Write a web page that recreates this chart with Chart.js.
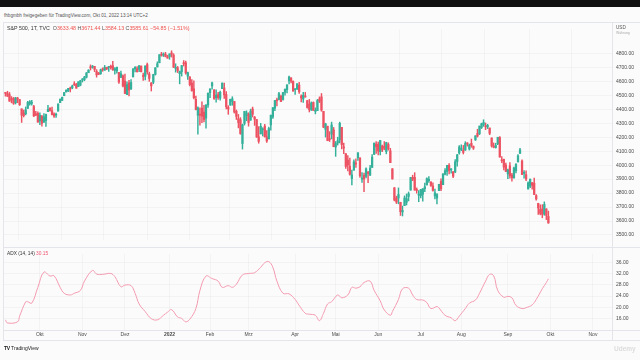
<!DOCTYPE html>
<html>
<head>
<meta charset="utf-8">
<script src="https://cdn.jsdelivr.net/npm/chart.js"></script>
<style>
  body { margin: 0; width: 640px; height: 360px; background: #fbfbfb; position: relative; overflow: hidden;
         font-family: "Liberation Sans", Arial, sans-serif; color: #333; }
  .abs { position: absolute; white-space: nowrap; }
  .line { position: absolute; background: #e3e5ea; }
  canvas { position: absolute; }
</style>
</head>
<body>
<div class="abs" style="left:0;top:0;width:640px;height:7px;background:#111"></div>
<div class="abs" style="left:4px;top:13px;font-size:4.6px;color:#555">fhbgmbh freigegeben für TradingView.com, Okt 01, 2022 13:14 UTC+2</div>

<canvas id="price" width="637" height="225" style="left:3px;top:22px"></canvas>
<canvas id="adx" width="637" height="93" style="left:3px;top:247px"></canvas>

<!-- pane borders -->
<div class="line" style="left:3px;top:22px;width:637px;height:1px"></div>
<div class="line" style="left:3px;top:22px;width:1px;height:318px"></div>
<div class="line" style="left:3px;top:247px;width:637px;height:1px"></div>
<div class="line" style="left:3px;top:330px;width:637px;height:1px"></div>
<div class="line" style="left:3px;top:340px;width:637px;height:1px"></div>
<div class="line" style="left:612px;top:22px;width:1px;height:318px"></div>

<div class="abs" style="left:7px;top:25px;font-size:5.3px">
  <span style="color:#333">S&amp;P 500, 1T, TVC</span>&nbsp;
  <span style="color:#555">O</span><span style="color:#ef5350">3633.48</span>
  <span style="color:#555">H</span><span style="color:#ef5350">3671.44</span>
  <span style="color:#555">L</span><span style="color:#ef5350">3584.13</span>
  <span style="color:#555">C</span><span style="color:#ef5350">3585.61</span>
  <span style="color:#ef5350">−54.85 (−1.51%)</span>
</div>
<div class="abs" style="left:616px;top:25px;font-size:4.6px;color:#555">USD</div>
<div class="abs" style="left:616px;top:31px;font-size:3.4px;color:#aaa">Währung</div>
<div class="abs" style="left:7px;top:251px;font-size:4.8px">
  <span style="color:#333">ADX (14, 14)</span>&nbsp;<span style="color:#ef5370">30.15</span>
</div>
<div class="abs" style="left:4px;top:345px;font-size:5px;color:#222"><b style="letter-spacing:-0.3px">TV</b> TradingView</div>
<div class="abs" style="left:614px;top:345px;font-size:6.5px;font-weight:bold;color:#dcdcdc">Udemy</div>

<script>
// x positions are trading-day indices (0 = 8 Sep 2021)
const monthIdx = [17, 38, 59, 81, 101, 120, 143, 163, 184, 205, 225, 248, 269, 290];
const monthLabels = ['Okt', 'Nov', 'Dez', '2022', 'Feb', 'Mrz', 'Apr', 'Mai', 'Jun', 'Jul', 'Aug', 'Sep', 'Okt', 'Nov'];
const priceTicks = [3500, 3600, 3700, 3800, 3900, 4000, 4100, 4200, 4300, 4400, 4500, 4600, 4700, 4800];
const adxTicks = [16, 20, 24, 28, 32, 36];

// S&P 500 daily candles, Sep 2021 - Sep 2022
const opens = [
  4518,4513,4506,4475,4479,4447,4477,4470,4403,4375,4368,4406,4439,4443,4420,4362,4371,
  4317,4349,4310,4320,4383,4407,4390,4368,4358,4387,4448,4464,4497,4524,4532,4547,4553,4578,4580,4562,4573,
  4610,4613,4630,4662,4699,4702,4707,4671,4660,4655,4689,4680,4701,4700,4708,4712,4679,4675,4664,4629,4640,
  4602,4505,4589,4548,4632,4690,4691,4687,4710,4642,4636,4720,4653,4588,4594,4650,4703,4733,4795,4788,4795,4775,
  4778,4804,4788,4693,4698,4655,4669,4729,4733,4637,4632,4588,4547,4471,4357,4366,4408,4380,4337,4431,
  4519,4567,4536,4483,4505,4480,4548,4553,4506,4413,4430,4456,4456,4385,4333,4325,4155,4299,4355,
  4364,4322,4402,4343,4327,4203,4224,4253,4279,4202,4188,4288,4345,4407,4463,4470,4494,4470,4522,4541,4603,4624,4600,
  4540,4547,4573,4495,4474,4494,4462,4437,4395,4449,4385,4390,4473,4489,4385,4256,4279,4187,4222,4253,
  4130,4159,4181,4271,4128,4082,4036,3991,3904,3964,4014,4053,4052,3900,3927,3920,3943,3929,3984,4077,4151,
  4149,4096,4137,4135,4097,4148,4102,3974,3838,3763,3765,3734,3665,3710,3734,3775,3821,3913,3913,3826,3785,
  3782,3792,3831,3858,3889,3880,3851,3779,3764,3818,3883,3860,3935,3955,3999,3966,3953,3951,4026,4087,
  4112,4105,4107,4154,4116,4156,4134,4181,4227,4225,4269,4290,4281,4274,4266,4195,4133,4126,4153,4198,4034,4041,4000,
  3937,3995,3930,3909,3959,4023,4084,4030,3941,3932,3830,3849,3875,3871,3782,3727,3682,3686,3651,3687,3633
];
const highs = [
  4521,4529,4521,4491,4485,4486,4486,4471,4403,4395,4417,4457,4463,4464,4428,4385,4382,
  4375,4356,4369,4365,4429,4413,4416,4375,4372,4439,4475,4488,4520,4540,4551,4559,4573,4598,4585,4597,4608,
  4620,4636,4664,4684,4718,4714,4708,4684,4664,4688,4697,4714,4701,4708,4717,4744,4699,4702,4664,4673,4647,
  4653,4596,4608,4612,4694,4706,4706,4713,4710,4660,4712,4731,4666,4592,4651,4698,4740,4791,4808,4804,4808,4787,
  4797,4819,4798,4726,4707,4674,4714,4749,4745,4666,4633,4612,4603,4495,4417,4411,4453,4428,4432,4516,
  4546,4595,4543,4539,4521,4531,4590,4588,4527,4426,4472,4490,4456,4395,4363,4340,4294,4386,4389,
  4375,4401,4416,4349,4327,4276,4299,4268,4292,4247,4272,4358,4413,4465,4481,4522,4501,4521,4546,4576,4637,4628,4603,
  4549,4583,4593,4504,4522,4521,4464,4471,4453,4453,4410,4471,4489,4513,4386,4300,4279,4240,4308,4270,
  4169,4200,4308,4271,4158,4082,4068,4050,3965,4039,4046,4090,4052,3946,3944,3981,3956,3999,4076,4158,4169,
  4166,4177,4143,4169,4164,4160,4120,3975,3839,3778,3837,3734,3707,3780,3794,3808,3913,3928,3946,3837,3818,
  3827,3832,3871,3910,3918,3880,3873,3829,3796,3863,3902,3939,3975,3999,4012,3976,3954,4040,4078,4140,
  4145,4141,4168,4161,4151,4187,4138,4211,4257,4280,4301,4325,4302,4293,4266,4195,4159,4157,4200,4204,4062,4044,4015,
  3971,4019,3942,3987,4011,4076,4120,4038,3962,3959,3880,3900,3876,3907,3790,3727,3716,3717,3737,3687,3671
];
const lows = [
  4494,4492,4457,4446,4435,4438,4447,4427,4306,4345,4360,4406,4429,4430,4348,4355,4307,
  4289,4279,4305,4278,4383,4386,4360,4342,4342,4387,4448,4461,4497,4524,4526,4524,4547,4570,4551,4562,4568,
  4595,4604,4624,4662,4681,4694,4670,4630,4648,4650,4672,4679,4684,4672,4688,4679,4652,4659,4585,4626,4560,
  4511,4504,4495,4541,4632,4667,4667,4670,4667,4606,4611,4651,4600,4531,4583,4645,4703,4733,4780,4778,4775,4766,
  4758,4774,4699,4666,4663,4582,4638,4710,4651,4614,4568,4530,4475,4395,4222,4287,4305,4309,4265,4414,
  4483,4544,4470,4451,4471,4465,4548,4478,4402,4364,4429,4429,4373,4327,4267,4221,4115,4287,4318,
  4279,4322,4345,4285,4199,4157,4224,4209,4200,4162,4188,4251,4335,4390,4425,4468,4455,4465,4501,4517,4582,4589,4530,
  4507,4540,4514,4452,4450,4487,4408,4381,4392,4392,4367,4390,4448,4386,4268,4201,4175,4169,4188,4132,
  4063,4144,4159,4117,4082,3976,3959,3928,3859,3964,3984,4033,3912,3876,3810,3909,3875,3925,3984,4077,4084,
  4074,4074,4097,4110,4081,4107,4018,3900,3744,3725,3723,3640,3636,3710,3715,3744,3821,3889,3821,3799,3738,
  3765,3742,3810,3858,3877,3847,3813,3759,3722,3818,3818,3860,3930,3927,3938,3943,3911,3947,3992,4079,
  4104,4080,4107,4136,4108,4128,4112,4177,4201,4219,4262,4278,4254,4262,4218,4129,4124,4122,4147,4057,4018,3966,3954,
  3903,3907,3886,3907,3944,4023,4084,3932,3907,3888,3828,3839,3828,3789,3749,3648,3644,3623,3641,3610,3584
];
const closes = [
  4514,4493,4458,4469,4443,4481,4473,4433,4358,4354,4396,4449,4455,4443,4353,4360,4308,
  4357,4300,4346,4363,4399,4391,4361,4351,4364,4438,4471,4486,4520,4537,4549,4545,4567,4575,4551,4597,4605,
  4614,4631,4660,4680,4697,4702,4686,4647,4650,4683,4683,4701,4689,4705,4698,4683,4691,4701,4595,4655,4567,
  4513,4577,4538,4592,4686,4701,4668,4712,4669,4635,4710,4669,4621,4568,4649,4697,4726,4791,4786,4793,4778,4766,
  4797,4794,4701,4696,4677,4670,4713,4726,4660,4663,4577,4533,4483,4398,4410,4357,4350,4327,4432,4516,
  4546,4589,4477,4501,4484,4522,4587,4504,4419,4402,4472,4475,4380,4349,4305,4226,4288,4385,4374,
  4306,4387,4364,4329,4201,4171,4278,4260,4204,4173,4262,4358,4412,4463,4461,4512,4456,4520,4543,4575,4632,4602,4530,
  4546,4583,4525,4481,4500,4488,4413,4397,4446,4392,4391,4463,4459,4394,4272,4296,4175,4183,4288,4132,
  4155,4175,4300,4147,4123,3991,4001,3935,3930,4024,4008,4088,3923,3901,3901,3974,3941,3979,4058,4158,4132,
  4101,4177,4109,4121,4161,4116,4018,3901,3750,3735,3790,3667,3675,3765,3760,3796,3912,3900,3821,3819,3785,
  3825,3831,3845,3903,3899,3855,3819,3802,3790,3863,3831,3937,3960,3999,3962,3967,3921,4024,4073,4130,
  4119,4091,4155,4152,4145,4140,4122,4210,4208,4280,4297,4305,4275,4284,4228,4138,4128,4141,4200,4058,4031,3986,3955,
  3967,3924,3909,3980,4006,4067,4110,3933,3946,3901,3873,3900,3856,3790,3758,3693,3655,3647,3719,3640,3586
];

// ADX(14,14)
const adxDays = [0,1,6,7,10,11,13,16,19,22,24,27,29,32,34,37,39,43,45,48,52,54,57,59,62,64,66,69,72,75,78,80,82,85,87,89,91,94,96,99,
  102,105,107,110,112,114,117,120,123,126,128,130,132,134,137,140,143,145,148,150,153,155,157,159,161,164,166,169,171,173,175,177,180,
  182,185,187,190,191,194,196,199,201,203,206,208,210,213,214,217,220,222,224,227,229,232,234,237,239,241,243,246,248,250,252,255,257,
  260,262,265,267,268];
const adxValues = [15.6,14.5,14.9,16.9,22,22,21.5,27.1,32.5,31.1,31.2,27.1,25,24.4,25,26,29.3,33.1,31.8,31.7,32,30.9,27.3,27.9,27.7,25,
  21.2,18.5,16,15.6,17.2,18.3,19.2,16.6,16.1,14.9,15.8,19.6,26,31.1,
  30.2,29.3,27.1,27.7,27.1,28.2,31.5,32,32.3,34.2,35.8,36.2,34.2,29.3,25,24.8,22.8,20.7,17.9,17.6,17.2,15.3,17.9,21.2,22,24.4,23.4,24.4,
  27.1,26.8,27.3,28.8,29.3,26,22.3,19.1,17.2,18.5,22.8,26.6,26.8,24.4,22.8,22.6,21.7,19.6,20.3,19.8,17.2,16.3,15.3,16.9,19.6,21.5,22.6,
  25,29.3,31.7,31.2,26,23.6,23.9,23.4,20.7,19.6,19.9,20.9,22.8,26.6,28.8,30.15];

const upColor = '#34b09b';
const downColor = '#ec5262';
const gridColor = 'rgba(0,0,0,0.03)';
const xMin = -1.2, xMax = 299.4;

Chart.defaults.font.family = '"Liberation Sans", Arial, sans-serif';
Chart.defaults.font.size = 5;
Chart.defaults.color = '#4a4a4a';

const candleColor = ctx => closes[ctx.dataIndex] >= opens[ctx.dataIndex] ? upColor : downColor;
const monthGrid = scale => { scale.ticks = monthIdx.map(v => ({ value: v })); };

new Chart(document.getElementById('price'), {
  type: 'bar',
  data: {
    datasets: [
      {
        data: closes.map((c, i) => ({ x: i, y: [opens[i], c] })),
        backgroundColor: candleColor,
        barThickness: 1.6,
        minBarLength: 1,
        grouped: false
      },
      {
        data: closes.map((c, i) => ({ x: i, y: [lows[i], highs[i]] })),
        backgroundColor: candleColor,
        barThickness: 0.8,
        grouped: false
      }
    ]
  },
  options: {
    responsive: false,
    animation: false,
    layout: { padding: 0 },
    plugins: { legend: { display: false }, tooltip: { enabled: false } },
    scales: {
      x: {
        type: 'linear', min: xMin, max: xMax, offset: false,
        afterBuildTicks: monthGrid,
        afterFit: s => { s.height = 0; },
        ticks: { display: false },
        grid: { color: gridColor, drawTicks: false },
        border: { display: false }
      },
      y: {
        position: 'right', min: 3464, max: 4975,
        afterBuildTicks: s => { s.ticks = priceTicks.map(v => ({ value: v })); },
        afterFit: s => { s.width = 28; },
        ticks: { padding: 4, callback: v => v.toFixed(2) },
        grid: { color: gridColor, drawTicks: false },
        border: { display: false }
      }
    }
  }
});

new Chart(document.getElementById('adx'), {
  type: 'line',
  data: {
    datasets: [{
      data: adxDays.map((d, i) => ({ x: d, y: adxValues[i] })),
      borderColor: '#f49ab0',
      borderWidth: 1,
      pointRadius: 0,
      tension: 0.4
    }]
  },
  options: {
    responsive: false,
    animation: false,
    layout: { padding: 0 },
    plugins: { legend: { display: false }, tooltip: { enabled: false } },
    scales: {
      x: {
        type: 'linear', min: xMin, max: xMax,
        afterBuildTicks: monthGrid,
        afterFit: s => { s.height = 10; },
        ticks: {
          padding: 2, autoSkip: false, maxRotation: 0,
          callback: v => monthLabels[monthIdx.indexOf(v)],
          font: ctx => ({ size: 5, weight: ctx.tick && ctx.tick.value === 81 ? 'bold' : 'normal' })
        },
        grid: { color: gridColor, drawTicks: false },
        border: { display: false }
      },
      y: {
        position: 'right', min: 12, max: 38.9,
        afterBuildTicks: s => { s.ticks = adxTicks.map(v => ({ value: v })); },
        afterFit: s => { s.width = 28; },
        ticks: { padding: 4, callback: v => v.toFixed(2) },
        grid: { color: gridColor, drawTicks: false },
        border: { display: false }
      }
    }
  }
});
</script>
</body>
</html>
